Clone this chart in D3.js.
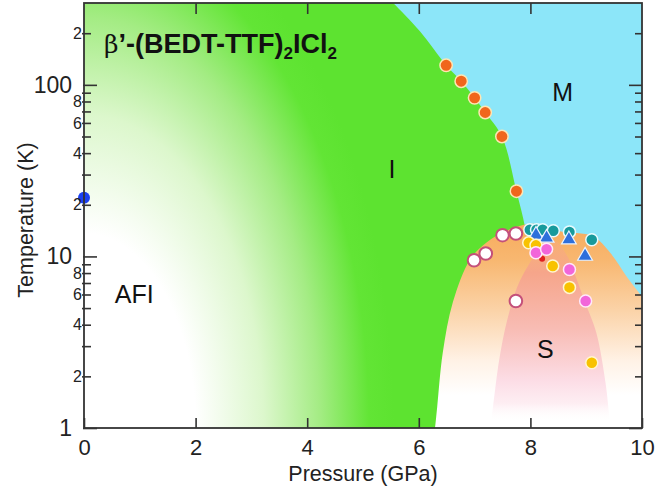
<!DOCTYPE html>
<html><head><meta charset="utf-8">
<script src="https://cdn.jsdelivr.net/npm/d3@7/dist/d3.min.js"></script>
<style>
html,body{margin:0;padding:0;background:#fff;}
svg{display:block;font-family:"Liberation Sans",Arial,Helvetica,sans-serif;}
</style></head>
<body>
<svg id="chart" width="657" height="492"></svg>
<script>
// ---- data (pressure GPa, temperature K) ----
const xTicks = [0, 2, 4, 6, 8, 10];
const yTicks = [1,2,3,4,5,6,7,8,9,10,20,30,40,50,60,70,80,90,100,200];
const yMajor = [1, 10, 100];
const yMinorLabeled = [2,4,6,8,20,40,60,80,200];

const orangePts  = [[6.49,130],[6.76,105],[7.0,84],[7.19,69],[7.49,50],[7.75,24]];
const bluePt     = [[0,22]];
const openPts    = [[6.99,9.5],[7.2,10.4],[7.5,13.3],[7.74,13.6],[7.74,5.5]];
const tealPts    = [[7.99,14.3],[8.11,14.3],[8.22,14.3],[8.41,14.1],[8.70,13.9],[9.10,12.5]];
const triPts     = [[8.10,13.5],[8.29,13.0],[8.69,12.7],[8.98,10.2]];
const yellowPts  = [[7.97,12.0],[8.10,11.6],[8.40,8.8],[8.70,6.6],[9.10,2.4]];
const redPts     = [[8.21,9.7]];
const magentaPts = [[8.10,10.5],[8.29,11.0],[8.70,8.4],[8.99,5.5]];

// phase boundaries
const imBoundary = [[5.40,330],[5.54,300],[6.02,205],[6.49,130],[6.76,105],[7.0,84],[7.19,69],[7.49,50],[7.75,24],[7.90,15],[7.95,11]];
const domeLeft   = [[6.27,0.9],[6.29,1],[6.33,1.33],[6.43,2.75],[6.61,5.4],[6.92,9.6],[7.22,12.1],[7.55,14],[7.85,15.2],[8.17,15.4]];
const domeRight  = [[8.53,14],[9.12,13.1],[9.43,10.5],[9.73,7.6],[10,5.8],[10.3,4],[10.5,0.9]];
const scBand     = [[7.30,1.1],[7.36,1.6],[7.45,2.6],[7.58,4.2],[7.76,6.6],[7.99,9.2],[8.22,11.6],[8.45,12.3],[8.65,10.2],[8.80,7.8],[8.98,5.4],[9.18,3.6],[9.35,1.8],[9.42,1.1]];

const regionLabels = [
  {text:"M",   p:8.58, t:80},
  {text:"I",   p:5.52, t:28.5},
  {text:"AFI", p:0.90, t:5.35},
  {text:"S",   p:8.27, t:2.56}
];

// ---- layout ----
const L = 84, R = 642, T = 3, B = 428;
const svg = d3.select("#chart");
const x = d3.scaleLinear().domain([0, 10]).range([L, R]);
const y = d3.scaleLog().domain([1, 300]).range([B, T]);
const px = d => [x(d[0]), y(d[1])];

const defs = svg.append("defs");
defs.append("clipPath").attr("id","clip").append("rect")
  .attr("x",L).attr("y",T).attr("width",R-L).attr("height",B-T);

const gg = defs.append("radialGradient").attr("id","gGreen")
  .attr("gradientUnits","userSpaceOnUse")
  .attr("cx",0).attr("cy",0).attr("r",1)
  .attr("gradientTransform",`translate(${L},${B}) scale(310,540)`);
[[0,"#ffffff"],[0.36,"#ffffff"],[0.58,"#dcf7cc"],[0.76,"#a4ec84"],[0.92,"#62e535"],[1,"#5de330"]]
  .forEach(s=>gg.append("stop").attr("offset",s[0]).attr("stop-color",s[1]));

const og = defs.append("linearGradient").attr("id","gOrange")
  .attr("gradientUnits","userSpaceOnUse").attr("x1",0).attr("x2",0).attr("y1",226).attr("y2",395);
[[0,"#f7ac5e"],[0.2,"#f8b770"],[0.5,"#fbd3a8"],[0.8,"#fff2e6"],[1,"#ffffff"]]
  .forEach(s=>og.append("stop").attr("offset",s[0]).attr("stop-color",s[1]));

const sg = defs.append("linearGradient").attr("id","gSalmon")
  .attr("gradientUnits","userSpaceOnUse").attr("x1",0).attr("x2",0).attr("y1",235).attr("y2",422);
[[0,"#f7aa80",0.3],[0.2,"#f6a58a",1],[0.5,"#f8bcb4",1],[0.78,"#fcdde6",1],[0.9,"#fde9ef",0.8],[1,"#ffffff",0]]
  .forEach(s=>sg.append("stop").attr("offset",s[0]).attr("stop-color",s[1]).attr("stop-opacity",s[2]));

const plot = svg.append("g").attr("clip-path","url(#clip)");
plot.append("rect").attr("x",L).attr("y",T).attr("width",R-L).attr("height",B-T).attr("fill","url(#gGreen)");

const curve = d3.line().curve(d3.curveCatmullRom.alpha(0.5));
// metallic region (the dome is drawn over its lower part)
plot.append("path")
  .attr("d", curve(imBoundary.map(px)) + `L${x(7.95)},${y(0.9)}L${x(10.6)},${y(0.9)}L${x(10.6)},${y(330)}Z`)
  .attr("fill","#8ce6f9");
// superconducting dome
plot.append("path").attr("d", curve(domeLeft.concat(domeRight).map(px))+"Z").attr("fill","url(#gOrange)");
// inner band
plot.append("path").attr("d", curve(scBand.map(px))+"Z").attr("fill","url(#gSalmon)");

// region labels
svg.append("g").selectAll("text").data(regionLabels).join("text")
  .attr("x",d=>x(d.p)).attr("y",d=>y(d.t))
  .attr("text-anchor","middle").attr("font-size",25).attr("fill","#111")
  .text(d=>d.text);

// title
const title = svg.append("text").attr("x",104).attr("y",53).attr("font-size",27).attr("fill","#111");
title.append("tspan").attr("font-family","'DejaVu Serif','Liberation Serif',serif").attr("font-size",25).text("β");
title.append("tspan").attr("font-weight","bold").text("’-(BEDT-TTF)");
title.append("tspan").attr("font-weight","bold").attr("font-size",17).attr("dy",6).text("2");
title.append("tspan").attr("font-weight","bold").attr("dy",-6).text("ICl");
title.append("tspan").attr("font-weight","bold").attr("font-size",17).attr("dy",6).text("2");

// markers
const mk = svg.append("g");
function circles(data, r, fill, stroke, sw){
  mk.append("g").selectAll("circle").data(data).join("circle")
    .attr("cx",d=>x(d[0])).attr("cy",d=>y(d[1])).attr("r",r)
    .attr("fill",fill).attr("stroke",stroke).attr("stroke-width",sw);
}
circles(openPts, 6.3, "#ffffff", "#c4507a", 2);
circles(tealPts, 6, "#179a9c", "#e8fbff", 1.5);
mk.append("g").selectAll("path").data(triPts).join("path")
  .attr("d", d3.symbol().type(d3.symbolTriangle).size(95))
  .attr("transform",d=>`translate(${x(d[0])},${y(d[1])+1})`)
  .attr("fill","#2e6fdb").attr("stroke","#eaf4ff").attr("stroke-width",1.2);
circles(yellowPts, 6, "#f8c200", "#fff6d0", 1.5);
circles(redPts, 3, "#e02020", "none", 0);
circles(magentaPts, 6, "#f265da", "#ffe8fa", 1.5);
circles(orangePts, 6.2, "#f0661c", "#fde6b4", 1.5);
circles(bluePt, 6, "#1a40f2", "none", 0);

// axes
const axCol = "#333";
function styleAxis(g){
  g.select(".domain").remove();
  g.selectAll("line").attr("stroke",axCol).attr("stroke-width",1.6);
  g.selectAll("text").attr("fill","#222").attr("font-family",'"Liberation Sans",Arial,sans-serif');
}
const isMajor = v => yMajor.includes(v);
const yFmt = v => isMajor(v) ? String(v) : (yMinorLabeled.includes(v) ? String(v).charAt(0) : "");

const gl = svg.append("g").attr("transform",`translate(${L},0)`)
  .call(d3.axisLeft(y).tickValues(yTicks).tickFormat(yFmt).tickSize(-7).tickSizeOuter(0).tickPadding(2));
styleAxis(gl);
gl.selectAll(".tick").each(function(v){
  const t = d3.select(this);
  t.select("line").attr("x1", isMajor(v)? -1 : -2).attr("x2", isMajor(v) ? 13 : 7);
  t.select("text").attr("x", isMajor(v) ? -12 : -2).attr("font-size", isMajor(v) ? 23 : 16);
});

const gr = svg.append("g").attr("transform",`translate(${R},0)`)
  .call(d3.axisRight(y).tickValues(yTicks).tickFormat("").tickSize(-7).tickSizeOuter(0));
styleAxis(gr);
gr.selectAll(".tick").each(function(v){
  d3.select(this).select("line").attr("x2", isMajor(v) ? -13 : -7);
});

const gb = svg.append("g").attr("transform",`translate(0,${B})`)
  .call(d3.axisBottom(x).tickValues(xTicks).tickSize(-10).tickSizeOuter(0).tickPadding(11));
styleAxis(gb);
gb.selectAll("text").attr("font-size",22);

const gt = svg.append("g").attr("transform",`translate(0,${T})`)
  .call(d3.axisTop(x).tickValues(xTicks.slice(1,-1)).tickFormat("").tickSize(-11).tickSizeOuter(0));
styleAxis(gt);

// frame
svg.append("rect").attr("x",L).attr("y",T).attr("width",R-L).attr("height",B-T)
  .attr("fill","none").attr("stroke",axCol).attr("stroke-width",1.8);

// axis titles
svg.append("text").attr("x",(L+R)/2).attr("y",481).attr("text-anchor","middle")
  .attr("font-size",21.5).attr("fill","#222").text("Pressure (GPa)");
svg.append("text").attr("transform",`translate(33,220) rotate(-90)`).attr("text-anchor","middle")
  .attr("font-size",21.5).attr("fill","#222").text("Temperature (K)");
</script>
</body></html>
